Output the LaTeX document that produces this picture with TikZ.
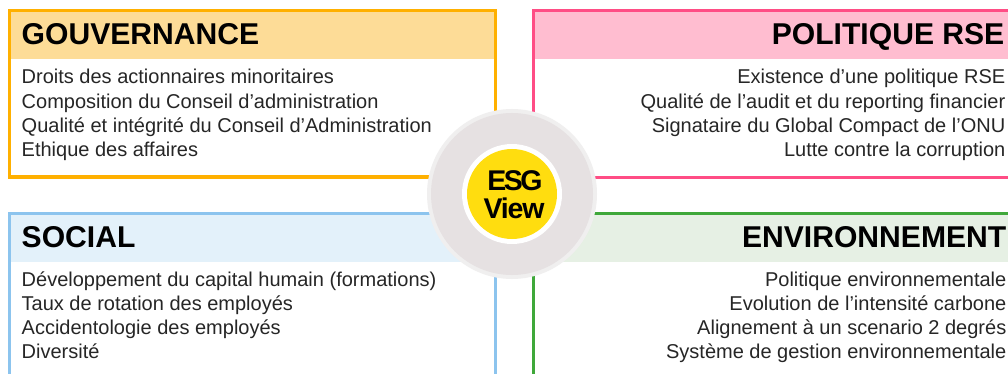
\documentclass[tikz,border=0pt]{standalone}
\usepackage{fontspec}
\setmainfont{Liberation Sans}
\newfontfamily\logofont[LetterSpace=-9]{Liberation Sans Bold}
\newfontfamily\logofontb[LetterSpace=-4]{Liberation Sans Bold}
\definecolor{cgov}{HTML}{FFB000}
\definecolor{cgovl}{HTML}{FDDC97}
\definecolor{cpol}{HTML}{FF4D85}
\definecolor{cpoll}{HTML}{FFBDD0}
\definecolor{csoc}{HTML}{8CC4EE}
\definecolor{csocl}{HTML}{E3F1FA}
\definecolor{cenv}{HTML}{3FA83A}
\definecolor{cenvl}{HTML}{E6F0E4}
\definecolor{ctext}{HTML}{262626}
\definecolor{cring}{HTML}{E6E1E2}
\definecolor{cringo}{HTML}{F0EFEF}
\definecolor{cyel}{HTML}{FFDD0F}
\tikzset{
  x=1pt,y=-1pt,
  frameline/.style={line width=3pt,line join=miter},
  titleL/.style={anchor=base west,inner sep=0pt,font=\fontsize{30.1}{32}\selectfont\bfseries,text=black},
  titleR/.style={anchor=base east,inner sep=0pt,font=\fontsize{30.1}{32}\selectfont\bfseries,text=black},
  bodyL/.style={anchor=base west,inner sep=0pt,font=\fontsize{20}{22}\selectfont,text=ctext},
  bodyR/.style={anchor=base east,inner sep=0pt,font=\fontsize{20}{22}\selectfont,text=ctext},
}
\begin{document}
\begin{tikzpicture}
\useasboundingbox (0,0) rectangle (1008,374);
\fill[white] (0,0) rectangle (1008,374);
% header bands
\fill[cgovl] (9.5,11) rectangle (495,59);
\fill[cpoll] (533.5,11) rectangle (1008,59);
\fill[csocl] (9.5,213) rectangle (495,262);
\fill[cenvl] (533.5,213) rectangle (1008,262);
% frames
\draw[frameline,cgov] (9.5,11) rectangle (495,177);
\draw[frameline,cpol] (1010,11) -- (533.5,11) -- (533.5,177.5) -- (1010,177.5);
\draw[frameline,csoc] (9.5,376) -- (9.5,213) -- (495,213) -- (495,376);
\draw[frameline,cenv] (533.5,376) -- (533.5,213) -- (1010,213);
% titles
\node[titleL] (tgov) at (21.5,45) {GOUVERNANCE};
\node[titleR] (tpol) at (1004.5,45) {POLITIQUE RSE};
\node[titleL] (tsoc) at (21.5,247.5) {SOCIAL};
\node[titleR] (tenv) at (1006.5,247.5) {ENVIRONNEMENT};
% body
\node[bodyL] (g1) at (21.5,83.5) {Droits des actionnaires minoritaires};
\node[bodyL] (g2) at (21.5,108.5) {Composition du Conseil d’administration};
\node[bodyL] (g3) at (21.5,132.5) {Qualité et intégrité du Conseil d’Administration};
\node[bodyL] (g4) at (21.5,156.5) {Ethique des affaires};
\node[bodyR] (p1) at (1005.5,84) {Existence d’une politique RSE};
\node[bodyR] (p2) at (1005.5,109) {Qualité de l’audit et du reporting financier};
\node[bodyR] (p3) at (1005.5,132.5) {Signataire du Global Compact de l’ONU};
\node[bodyR] (p4) at (1005.5,156.5) {Lutte contre la corruption};
\node[bodyL] (s1) at (21.5,286) {Développement du capital humain (formations)};
\node[bodyL] (s2) at (21.5,310.5) {Taux de rotation des employés};
\node[bodyL] (s3) at (21.5,334.5) {Accidentologie des employés};
\node[bodyL] (s4) at (21.5,358.5) {Diversité};
\node[bodyR] (e1) at (1006.5,286) {Politique environnementale};
\node[bodyR] (e2) at (1006.5,310.5) {Evolution de l’intensité carbone};
\node[bodyR] (e3) at (1006.5,334.5) {Alignement à un scenario 2 degrés};
\node[bodyR] (e4) at (1006.5,358.5) {Système de gestion environnementale};
% centre
\fill[cringo] (512,194) circle[radius=85];
\fill[cring] (512,194) circle[radius=81];
\fill[white] (512,194) circle[radius=50];
\fill[cyel] (512,194) circle[radius=45];
\node[anchor=base,inner sep=0pt,font=\fontsize{28.5}{30}\logofont,text=black] (esg) at (515,190) {ESG};
\node[anchor=base,inner sep=0pt,font=\fontsize{28.5}{30}\logofontb,text=black] (view) at (514,218) {View};
\end{tikzpicture}
\end{document}
